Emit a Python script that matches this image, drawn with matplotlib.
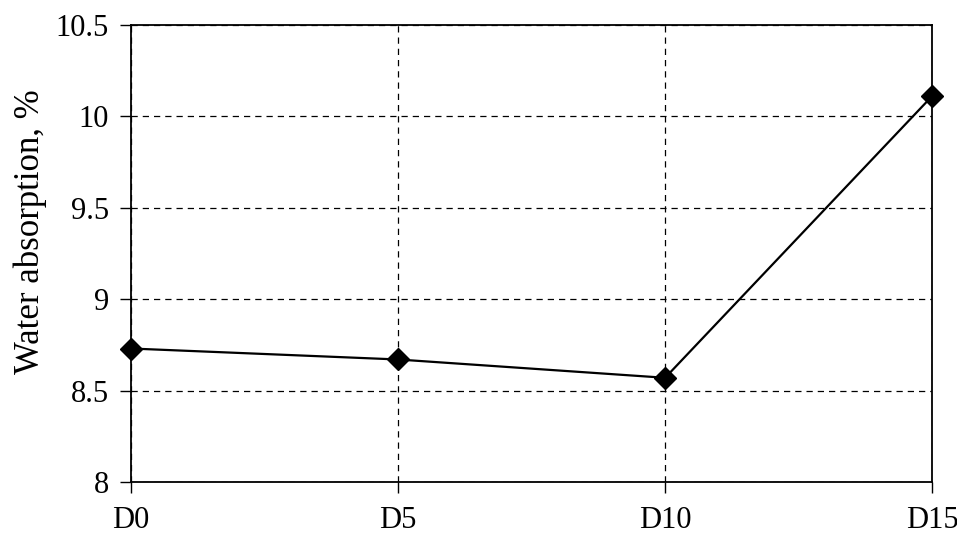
#!/usr/bin/env python3
"""Water absorption by mix (D0-D15)."""
import matplotlib
matplotlib.use("Agg")
import matplotlib.pyplot as plt

mixes = ["D0", "D5", "D10", "D15"]
water_absorption = [8.73, 8.67, 8.57, 10.11]
y_ticks = [8, 8.5, 9, 9.5, 10, 10.5]
y_tick_labels = ["8", "8.5", "9", "9.5", "10", "10.5"]

plt.rcParams['font.family'] = ['Liberation Serif', 'DejaVu Serif']


def main():
    fig = plt.figure(figsize=(9.57, 5.38), dpi=100)
    ax = fig.add_axes([0.137, 0.104, 0.837, 0.850])

    x = list(range(len(mixes)))
    ax.plot(x, water_absorption, color='black', lw=1.6, marker='D',
            markersize=11, markerfacecolor='black', markeredgecolor='black',
            zorder=3, clip_on=False)

    ax.set_xlim(0, len(mixes) - 1)
    ax.set_ylim(8, 10.5)
    ax.set_xticks(x)
    ax.set_xticklabels(mixes)
    ax.set_yticks(y_ticks)
    ax.set_yticklabels(y_tick_labels)

    ax.grid(True, color='black', linestyle=(0, (5, 4)), lw=0.9)
    ax.tick_params(direction='out', length=8, width=1, labelsize=22)
    ax.tick_params(axis='y', pad=8)
    ax.tick_params(axis='x', pad=9)
    for s in ax.spines.values():
        s.set_linewidth(1.3)

    ax.set_ylabel("Water absorption, %", fontsize=25)
    ax.yaxis.set_label_coords(-0.105, 0.547)

    fig.savefig("out.png", dpi=100)
    plt.close()


if __name__ == "__main__":
    main()
